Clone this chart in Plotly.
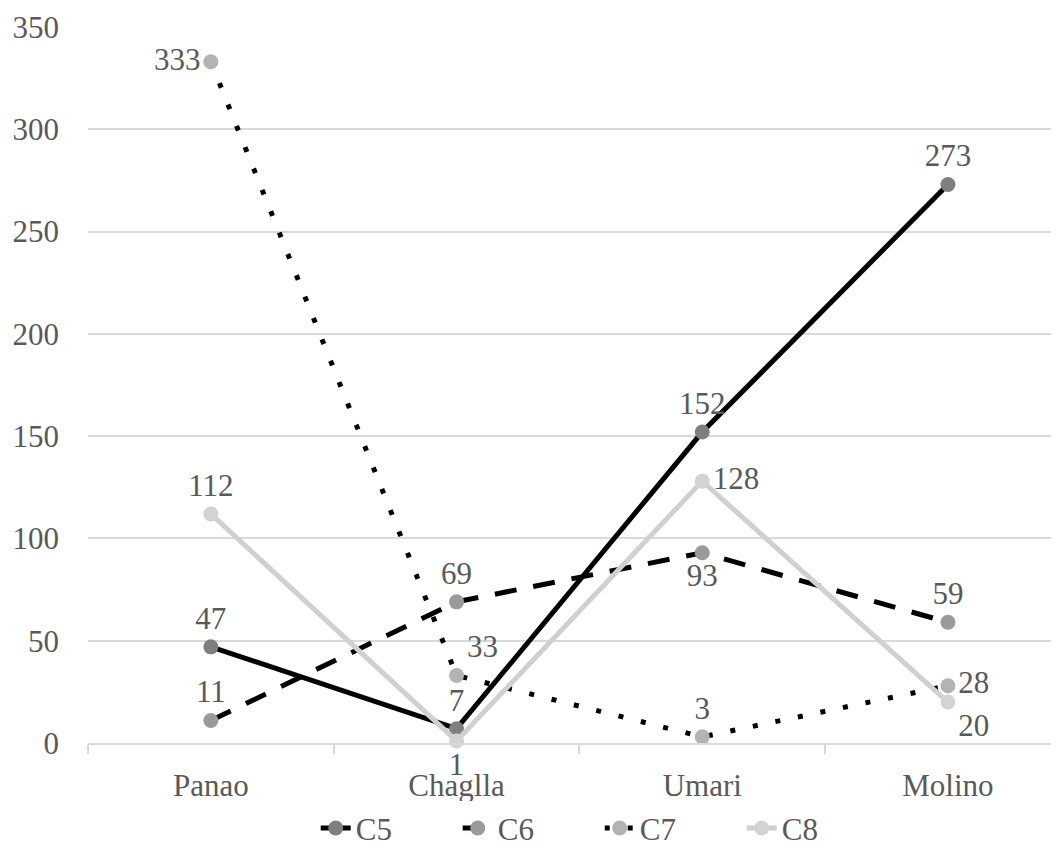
import plotly.graph_objects as go

categories = ["Panao", "Chaglla", "Umari", "Molino"]
c5 = [47, 7, 152, 273]
c6 = [11, 69, 93, 59]
c7 = [333, 33, 3, 28]
c8 = [112, 1, 128, 20]
y_ticks = [0, 50, 100, 150, 200, 250, 300, 350]

FONT = "Liberation Serif"
TXT = "#595959"
FS = 31

series = [
    dict(name="C5", y=c5, line=dict(color="#000000", width=5, dash="solid"), mc="#7f7f7f",
         pos=["top center", "top center", "top center", "top center"]),
    dict(name="C6", y=c6, line=dict(color="#000000", width=5, dash="22px,17px"), mc="#9a9a9a",
         pos=["top center", "top center", "bottom center", "top center"]),
    dict(name="C7", y=c7, line=dict(color="#000000", width=5, dash="5px,18px"), mc="#b3b3b3",
         pos=["middle left", "top right", "top center", "middle right"]),
    dict(name="C8", y=c8, line=dict(color="#d0d0d0", width=5, dash="solid"), mc="#d3d3d3",
         pos=["top center", "bottom center", "middle right", "bottom right"]),
]

fig = go.Figure()
for s in series:
    fig.add_trace(go.Scatter(
        x=categories, y=s["y"], name=s["name"],
        mode="lines+markers+text",
        line=s["line"],
        marker=dict(color=s["mc"], size=15),
        text=[str(v) for v in s["y"]],
        textposition=s["pos"],
        textfont=dict(family=FONT, size=FS, color=TXT),
        cliponaxis=False,
    ))

# page has an 8px body margin, so the figure is drawn 8px right/down
fig.update_layout(
    width=1051, height=844,
    margin=dict(l=80, r=0, t=19, b=109),
    paper_bgcolor="white", plot_bgcolor="white",
    font=dict(family=FONT, size=FS, color=TXT),
    showlegend=True,
    legend=dict(orientation="h", x=0.527, xanchor="center", y=0.028, yanchor="middle",
                yref="container", font=dict(family=FONT, size=FS, color=TXT),
                itemwidth=30, entrywidth=97, entrywidthmode="pixels", tracegroupgap=0),
    xaxis=dict(
        type="category", range=[-0.5, 3.452], automargin=False,
        showgrid=False, showline=True, linecolor="#d9d9d9", linewidth=1.5,
        ticks="outside", tickson="boundaries", ticklen=9, tickcolor="#d9d9d9", tickwidth=1.5,
        tickfont=dict(family=FONT, size=FS, color=TXT), ticklabelstandoff=14,
    ),
    yaxis=dict(
        range=[0, 350], tickvals=y_ticks, automargin=False,
        showgrid=True, gridcolor="#d9d9d9", gridwidth=1.5,
        zeroline=False, showline=False, ticks="",
        tickfont=dict(family=FONT, size=FS, color=TXT), ticklabelstandoff=28,
    ),
)

fig.write_html("out.html")
